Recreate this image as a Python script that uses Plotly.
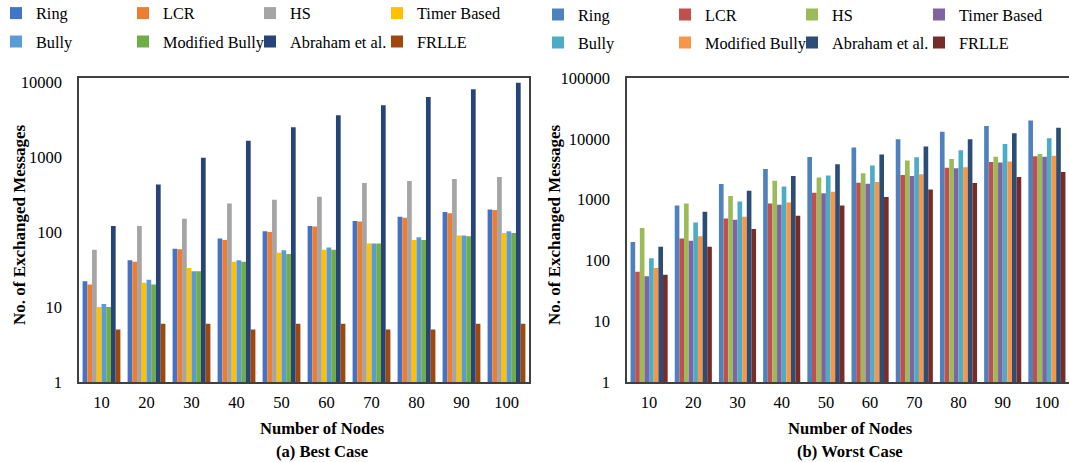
import plotly.graph_objects as go

nodes = ["10", "20", "30", "40", "50", "60", "70", "80", "90", "100"]
series = ["Ring", "LCR", "HS", "Timer Based", "Bully", "Modified Bully", "Abraham et al.", "FRLLE"]

# (a) Best case
best_ring = [22, 42, 60, 82, 102, 120, 140, 160, 185, 200]
best_lcr = [20, 40, 59, 78, 100, 118, 138, 155, 178, 196]
best_hs = [58, 120, 150, 240, 270, 295, 450, 480, 510, 540]
best_timer = [10, 21, 33, 40, 53, 58, 70, 78, 90, 97]
best_bully = [11, 23, 30, 42, 57, 62, 70, 85, 90, 102]
best_mbully = [10, 20, 30, 40, 51, 58, 70, 78, 88, 97]
best_abraham = [120, 430, 980, 1650, 2500, 3600, 4900, 6300, 8000, 9800]
best_frlle = [5, 6, 6, 5, 6, 6, 5, 5, 6, 6]

# (b) Worst case
worst_ring = [200, 800, 1800, 3200, 5000, 7200, 9800, 13000, 16300, 20000]
worst_lcr = [65, 230, 490, 860, 1300, 1900, 2550, 3350, 4150, 5150]
worst_hs = [340, 860, 1150, 2050, 2300, 2700, 4400, 4650, 5050, 5650]
worst_timer = [55, 210, 465, 820, 1270, 1820, 2450, 3270, 4060, 5050]
worst_bully = [108, 420, 930, 1650, 2500, 3650, 4950, 6500, 8200, 10200]
worst_mbully = [75, 250, 520, 900, 1350, 1950, 2600, 3400, 4250, 5250]
worst_abraham = [168, 630, 1400, 2450, 3800, 5500, 7500, 9800, 12300, 15200]
worst_frlle = [58, 168, 328, 540, 800, 1100, 1470, 1870, 2350, 2850]

best_colors = ["#4472C4", "#ED7D31", "#A5A5A5", "#FFC000", "#5B9BD5", "#70AD47", "#264478", "#9E480E"]
worst_colors = ["#4F81BD", "#C0504D", "#9BBB59", "#8064A2", "#4BACC6", "#F79646", "#2C4D75", "#772C2A"]

best_tickvals = [1, 10, 100, 1000, 10000]
worst_tickvals = [1, 10, 100, 1000, 10000, 100000]

best = [best_ring, best_lcr, best_hs, best_timer, best_bully, best_mbully, best_abraham, best_frlle]
worst = [worst_ring, worst_lcr, worst_hs, worst_timer, worst_bully, worst_mbully, worst_abraham, worst_frlle]

FONT = "Liberation Serif, Times New Roman, serif"
fig = go.Figure()

for i, (name, vals) in enumerate(zip(series, best)):
    fig.add_trace(go.Bar(
        x=nodes, y=vals, name=name, marker=dict(color=best_colors[i], line=dict(width=0)),
        xaxis="x", yaxis="y", legend="legend" if i < 4 else "legend2",
    ))
for i, (name, vals) in enumerate(zip(series, worst)):
    fig.add_trace(go.Bar(
        x=nodes, y=vals, name=name, marker=dict(color=worst_colors[i], line=dict(width=0)),
        xaxis="x2", yaxis="y2", legend="legend3" if i < 4 else "legend4",
    ))

W, H = 1069, 462
axis_common = dict(showline=True, mirror=True, linecolor="#404040", linewidth=1.5,
                   showgrid=False, zeroline=False, ticks="", automargin=False,
                   tickfont=dict(family=FONT, size=16.5, color="#000"))

def leg(xpx, ypx):
    return dict(orientation="h", x=xpx / W, xanchor="left", y=1 - ypx / H, yanchor="middle",
                font=dict(family=FONT, size=16.3, color="#000"), bgcolor="rgba(0,0,0,0)",
                entrywidth=82, entrywidthmode="pixels", tracegroupgap=0, itemwidth=30)

fig.update_layout(
    width=W, height=H, margin=dict(l=0, r=0, t=0, b=0, autoexpand=False),
    paper_bgcolor="white", plot_bgcolor="white",
    barmode="group", bargap=0.16, bargroupgap=0,
    xaxis=dict(domain=[79 / W, 529 / W], anchor="y", ticklabelstandoff=4, **axis_common),
    yaxis=dict(domain=[1 - 382 / H, 1 - 78 / H], anchor="x", type="log", range=[0, 304 / 75],
               tickvals=best_tickvals, tickformat="d", ticklabelstandoff=12, **axis_common),
    xaxis2=dict(domain=[627 / W, 1.0], anchor="y2", ticklabelstandoff=4, **axis_common),
    yaxis2=dict(domain=[1 - 382 / H, 1 - 78 / H], anchor="x2", type="log", range=[0, 5],
                tickvals=worst_tickvals, tickformat="d", ticklabelstandoff=12, **axis_common),
    legend=leg(-4, 13.5), legend2=leg(-4, 42),
    legend3=leg(538, 15), legend4=leg(538, 43),
    showlegend=True,
)

def ann(xpx, ypx, text, size, angle=0):
    fig.add_annotation(x=xpx / W, y=1 - ypx / H, xref="paper", yref="paper", showarrow=False,
                       xanchor="center", yanchor="middle", text=text, textangle=angle,
                       font=dict(family=FONT, size=size, color="#000"))

ann(322, 428.5, "<b>Number of Nodes</b>", 16.6)
ann(322, 451.5, "<b>(a) Best Case</b>", 16.6)
ann(850, 428.5, "<b>Number of Nodes</b>", 16.6)
ann(850, 451.5, "<b>(b) Worst Case</b>", 16.6)
ann(19, 225, "<b>No. of Exchanged Messages</b>", 17, -90)
ann(554, 225, "<b>No. of Exchanged Messages</b>", 17, -90)

fig.write_html("out.html", config={"displayModeBar": False},
               post_script="document.body.style.margin='0px';document.body.style.overflow='hidden';")
